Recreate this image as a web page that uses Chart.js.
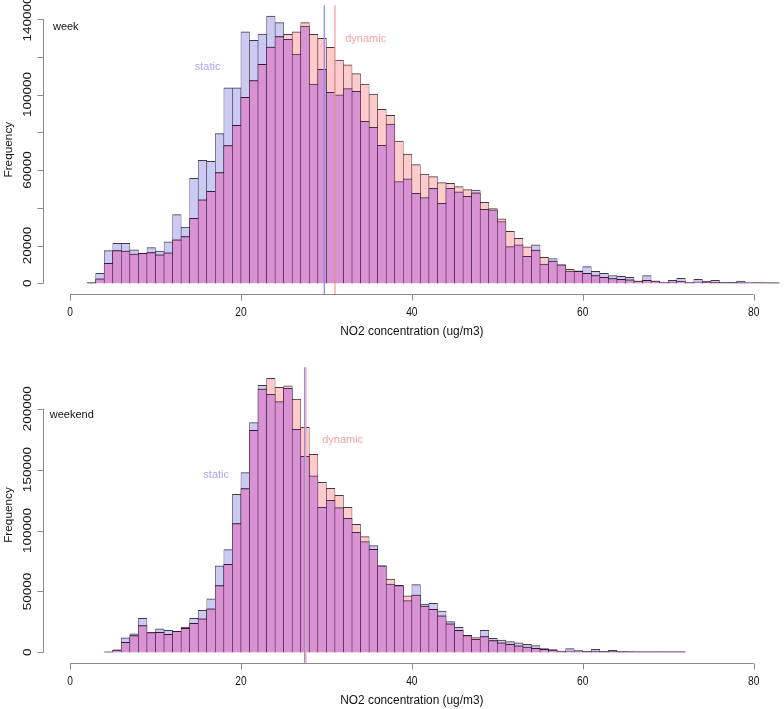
<!DOCTYPE html>
<html><head><meta charset="utf-8">
<script src="https://cdn.jsdelivr.net/npm/chart.js@4.4.1/dist/chart.umd.min.js"></script>
<style>
html,body{margin:0;padding:0;background:#fff;width:784px;height:709px;overflow:hidden}
canvas{position:absolute;left:0}
#c1{top:0}
#c2{top:354px}
</style></head><body>
<canvas id="c1" width="784" height="354"></canvas>
<canvas id="c2" width="784" height="355"></canvas>
<script>
// ---------- DATA ----------
// lower edge of each 1 ug/m3 bin
const weekBins = [2,3,4,5,6,7,8,9,10,11,12,13,14,15,16,17,18,19,20,21,22,23,24,25,26,27,28,29,30,31,32,33,34,35,36,37,38,39,40,41,42,43,44,45,46,47,48,49,50,51,52,53,54,55,56,57,58,59,60,61,62,63,64,65,66,67,68,69,70,71,72,73,74,75,76,77,78,79,80,81,82];
const weekStatic = [400,5300,17300,21200,21200,17700,15900,18900,17000,21900,36400,29700,55600,65200,64600,79300,103500,103600,133300,128700,132100,141600,138100,129300,121500,136300,105600,113400,101200,99800,103100,101700,85800,82600,73100,84400,53900,55300,47700,45400,50300,42400,50300,48400,46100,49400,39200,38900,32700,19400,20300,14300,20300,10100,13100,9700,6400,6600,8800,6300,5300,4100,3600,3200,1200,4000,1200,500,1600,2600,300,2100,1100,1500,350,300,1100,250,300,250,200];
const weekDynamic = [200,2300,10600,17300,17100,15400,15900,16200,15000,16100,23000,24700,34400,44200,48700,58600,72900,83700,98500,107400,116000,125200,130700,131900,133300,138100,131900,129800,125000,118300,115800,111100,105600,100300,92200,89000,75400,68500,62900,57900,56500,53300,53000,51200,49600,47900,42900,39600,34100,27500,23800,19300,17600,13700,11800,9700,7400,6300,5300,4100,3200,2500,2100,1800,1200,1600,1100,400,600,900,250,650,550,300,300,300,200,250,250,200,200];
const weekendBins = [4,5,6,7,8,9,10,11,12,13,14,15,16,17,18,19,20,21,22,23,24,25,26,27,28,29,30,31,32,33,34,35,36,37,38,39,40,41,42,43,44,45,46,47,48,49,50,51,52,53,54,55,56,57,58,59,60,61,62,63,64,65,66,67,68,69,70,71];
const weekendStatic = [300,2000,11800,15100,27900,16100,19200,18100,17200,20800,27900,34500,43800,70900,84300,129700,147500,188600,219200,211800,205800,216800,183100,160900,144800,119100,124800,118800,110000,98500,90900,87600,70900,56000,55000,42400,55600,39500,40200,33900,25200,20500,13900,10700,18100,11500,10000,8800,7800,6500,5500,3000,2200,1100,3000,1400,500,2500,500,1600,800,500,400,400,400,400,400,400];
const weekendDynamic = [100,1900,8200,13700,21900,16100,16400,14800,17200,19700,23800,27400,35600,54700,72300,105600,134400,182300,216200,225000,217600,218700,208000,184700,162600,139600,134700,128900,119100,105100,95000,84600,70900,60100,54700,46300,47000,38000,35200,30000,23400,18100,13800,12000,13000,9600,7700,6600,5400,4300,3200,2500,1900,800,1100,1100,500,800,500,600,400,400,300,300,300,300,300,300];
// means (vertical lines): [static, dynamic]
const weekMeans = [29.75, 31.0];
const weekendMeans = [27.45, 27.6];
const xTicks = [0,20,40,60,80];
const weekYTicks = [0,20000,40000,60000,80000,100000,120000,140000];
const weekYLabels = [0,20000,60000,100000,140000];
const weekendYTicks = [0,50000,100000,150000,200000];
const weekendYLabels = [0,50000,100000,150000,200000];
const xTitle = 'NO2 concentration (ug/m3)';
const yTitle = 'Frequency';
const seriesNames = ['static','dynamic'];

// ---------- STYLE ----------
const LAV = '#cacaf3', PINK = '#ffcaca', OVL = '#d992d3';
const EDGE = 'rgba(45,25,45,0.88)';
const LINE_S = '#8e8ee2', LINE_D = '#f4a3a3';
const TXT_S = '#a9a9ea', TXT_D = '#f0a4a4';
const FONT = '"Liberation Sans", Arial, Helvetica, sans-serif';

function txt(ctx, s, x, y, size, color, sx, rot, align) {
  ctx.save();
  ctx.translate(x, y);
  ctx.scale(sx, 1);
  if (rot) ctx.rotate(-Math.PI / 2);
  ctx.font = size + 'px ' + FONT;
  ctx.fillStyle = color;
  ctx.textAlign = align || 'center';
  ctx.textBaseline = 'middle';
  ctx.fillText(s, 0, 0);
  ctx.restore();
}

function rPlugin(cfg) {
  return {
    id: 'rStyle',
    afterDatasetsDraw(chart) {
      const ctx = chart.ctx, xs = chart.scales.x, a = chart.chartArea;
      [[cfg.means[0], LINE_S], [cfg.means[1], LINE_D]].forEach(([m, c]) => {
        const px = xs.getPixelForValue(m);
        ctx.save();
        ctx.strokeStyle = c; ctx.lineWidth = 1.3;
        ctx.beginPath(); ctx.moveTo(px, a.top); ctx.lineTo(px, a.bottom); ctx.stroke();
        ctx.restore();
      });
    },
    afterDraw(chart) {
      const ctx = chart.ctx, xs = chart.scales.x, ys = chart.scales.y, a = chart.chartArea;
      ctx.save();
      ctx.strokeStyle = '#8a8a8a'; ctx.lineWidth = 1;
      // x axis
      const yb = Math.round(a.bottom) + 0.5;
      ctx.beginPath();
      ctx.moveTo(xs.getPixelForValue(xTicks[0]), yb);
      ctx.lineTo(xs.getPixelForValue(xTicks[xTicks.length - 1]), yb);
      xTicks.forEach(t => {
        const px = Math.round(xs.getPixelForValue(t)) + 0.5;
        ctx.moveTo(px, yb); ctx.lineTo(px, yb + 6);
      });
      ctx.stroke();
      // y axis
      const xl = Math.round(a.left) + 0.5;
      const yt = cfg.yTicks;
      ctx.beginPath();
      ctx.moveTo(xl, ys.getPixelForValue(yt[0]));
      ctx.lineTo(xl, ys.getPixelForValue(yt[yt.length - 1]));
      yt.forEach(t => {
        const py = Math.round(ys.getPixelForValue(t)) + 0.5;
        ctx.moveTo(xl, py); ctx.lineTo(xl - 6, py);
      });
      ctx.stroke();
      ctx.restore();
      xTicks.forEach(t => txt(ctx, String(t), xs.getPixelForValue(t), a.bottom + 19, 12, '#111', 0.85));
      txt(ctx, xTitle, xs.getPixelForValue(40), a.bottom + 38, 12.5, '#111', 0.95);
      cfg.yLabels.forEach(t => txt(ctx, String(t), 27.5, ys.getPixelForValue(t), 13.5, '#111', 0.85, true));
      txt(ctx, yTitle, 9, (a.top + a.bottom) / 2, 11.8, '#111', 1, true);
      // annotations
      txt(ctx, cfg.title[0], xs.getPixelForValue(cfg.title[1]), ys.getPixelForValue(cfg.title[2]), 11, '#111', 1);
      txt(ctx, seriesNames[0], xs.getPixelForValue(cfg.sLab[0]), ys.getPixelForValue(cfg.sLab[1]), 11, TXT_S, 1);
      txt(ctx, seriesNames[1], xs.getPixelForValue(cfg.dLab[0]), ys.getPixelForValue(cfg.dLab[1]), 11, TXT_D, 1);
    }
  };
}

function build(id, bins, stat, dyn, yMin, yMax, pad, cfg) {
  const xy = arr => arr.map((v, i) => ({ x: bins[i] + 0.5, y: v }));
  const overlap = stat.map((v, i) => Math.min(v, dyn[i]));
  const bw = { top: 1, left: 0.6, right: 0.6, bottom: 0 };
  new Chart(document.getElementById(id), {
    type: 'bar',
    data: { datasets: [
      { label: 'overlap', data: xy(overlap), backgroundColor: OVL, borderColor: EDGE, borderWidth: bw, order: 1 },
      { label: seriesNames[1], data: xy(dyn), backgroundColor: PINK, borderColor: EDGE, borderWidth: bw, order: 2 },
      { label: seriesNames[0], data: xy(stat), backgroundColor: LAV, borderColor: EDGE, borderWidth: bw, order: 3 }
    ]},
    options: {
      responsive: false, animation: false, devicePixelRatio: 1,
      layout: { padding: pad },
      plugins: { legend: { display: false }, tooltip: { enabled: false } },
      datasets: { bar: { grouped: false, barPercentage: 1, categoryPercentage: 1, borderSkipped: false } },
      scales: {
        x: { type: 'linear', min: -3.2, max: 83.2, offset: false, display: false, ticks: { stepSize: 20 } },
        y: { type: 'linear', min: yMin, max: yMax, display: false }
      }
    },
    plugins: [rPlugin(cfg)]
  });
}

build('c1', weekBins, weekStatic, weekDynamic, -5700, 147300,
  { left: 42.7, top: 5.3, right: 3, bottom: 60 },
  { means: weekMeans, yTicks: weekYTicks, yLabels: weekYLabels, title: ['week', -0.5, 135800], sLab: [16.1, 114600], dLab: [34.6, 129400] });
build('c2', weekendBins, weekendStatic, weekendDynamic, -8540, 234000,
  { left: 42.7, top: 13.3, right: 3, bottom: 46.3 },
  { means: weekendMeans, yTicks: weekendYTicks, yLabels: weekendYLabels, title: ['weekend', 0.2, 194800], sLab: [17.1, 145600], dLab: [31.9, 174300] });
</script>
</body></html>
